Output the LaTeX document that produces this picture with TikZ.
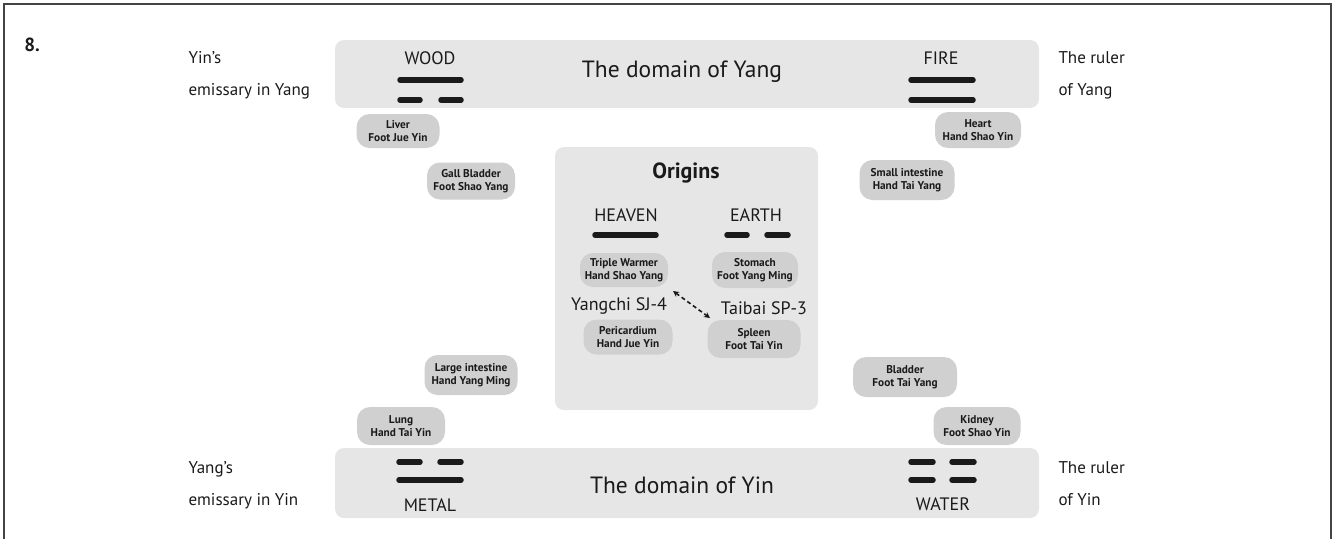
\documentclass[tikz,border=0pt]{standalone}
\usepackage{fontspec}
\setmainfont{PT Sans}
\usetikzlibrary{arrows.meta}
\definecolor{bandgray}{HTML}{E6E6E6}
\definecolor{blobgray}{HTML}{D0D0D0}
\definecolor{ink}{HTML}{1A1A1A}
\definecolor{framec}{HTML}{444444}
\tikzset{
  band/.style={fill=bandgray, rounded corners=9pt},
  blob/.style={fill=blobgray, rounded corners=13pt, align=center, text=ink,
    font=\fontsize{11.3}{12.5}\selectfont\bfseries, inner sep=0pt},
  bar/.style={line width=5.5pt, line cap=round, draw=ink},
  side/.style={anchor=west, align=left, text=ink, font=\fontsize{17}{32}\selectfont},
  elem/.style={text=ink, font=\fontsize{18}{20}\selectfont},
  title/.style={text=ink, font=\fontsize{23.5}{26}\selectfont},
  pt/.style={text=ink, font=\fontsize{18}{20}\selectfont}
}
\begin{document}
\begin{tikzpicture}[x=1pt,y=-1pt]
\useasboundingbox (0,0) rectangle (1335,539);
% frame
\draw[framec, line width=2pt] (4,539) -- (4,4) -- (1331,4) -- (1331,539);
\node[font=\fontsize{19}{21}\selectfont\bfseries, text=ink] (num) at (32,45) {8.};
% bands
\fill[band] (335,40) rectangle (1039,108);
\fill[band] (335,448) rectangle (1039,518);
\fill[band] (555,147) rectangle (818,410);
% top band
\node[title] (yang) at (682,72) {The domain of Yang};
\node[elem] (wood) at (430,58) {WOOD};
\draw[bar] (400,80) -- (461,80);
\draw[bar] (400,100) -- (420,100);
\draw[bar] (441,100) -- (461,100);
\node[elem] (fire) at (941,58) {FIRE};
\draw[bar] (911,80) -- (973,80);
\draw[bar] (911,100) -- (973,100);
\node[side] (yinem) at (185,75) {Yin's\\emissary in Yang};
\node[side] (rulyang) at (1055,75) {The ruler\\of Yang};
% bottom band
\node[title] (yin) at (682,485) {The domain of Yin};
\draw[bar] (399,462) -- (420,462);
\draw[bar] (440,462) -- (461,462);
\draw[bar] (399,480) -- (461,480);
\node[elem] (metal) at (430,505) {METAL};
\draw[bar] (911,462) -- (933,462);
\draw[bar] (952,462) -- (974,462);
\draw[bar] (911,480) -- (933,480);
\draw[bar] (952,480) -- (974,480);
\node[elem] (water) at (943,504) {WATER};
\node[side] (yangem) at (185,485) {Yang's\\emissary in Yin};
\node[side] (rulyin) at (1055,484) {The ruler\\of Yin};
% origins
\node[font=\fontsize{22}{24}\selectfont\bfseries, text=ink] (orig) at (686,173) {Origins};
\node[elem] (heaven) at (626,215) {HEAVEN};
\node[elem] (earth) at (756,215) {EARTH};
\draw[bar] (595,235) -- (656,235);
\draw[bar] (727,235) -- (747,235);
\draw[bar] (767,235) -- (788,235);
% blobs
\node[blob, minimum width=83pt, minimum height=34pt] (liver) at (398,131) {Liver\\Foot Jue Yin};
\node[blob, minimum width=86pt, minimum height=36pt] (heart) at (978,130) {Heart\\Hand Shao Yin};
\node[blob, minimum width=88pt, minimum height=37pt] (gall) at (471,181) {Gall Bladder\\Foot Shao Yang};
\node[blob, minimum width=95pt, minimum height=40pt] (small) at (907,180) {Small intestine\\Hand Tai Yang};
\node[blob, minimum width=88pt, minimum height=34pt] (triple) at (624,270) {Triple Warmer\\Hand Shao Yang};
\node[blob, minimum width=86pt, minimum height=36pt] (stomach) at (755,270) {Stomach\\Foot Yang Ming};
\node[blob, minimum width=89pt, minimum height=35pt] (peri) at (628,337) {Pericardium\\Hand Jue Yin};
\node[blob, minimum width=93pt, minimum height=38pt] (spleen) at (754,339) {Spleen\\Foot Tai Yin};
\node[blob, minimum width=93pt, minimum height=40pt] (large) at (471,375) {Large intestine\\Hand Yang Ming};
\node[blob, minimum width=88pt, minimum height=38pt] (lung) at (401,426) {Lung\\Hand Tai Yin};
\node[blob, minimum width=104pt, minimum height=40pt] (bladder) at (905,377) {Bladder\\Foot Tai Yang};
\node[blob, minimum width=87pt, minimum height=38pt] (kidney) at (977,426) {Kidney\\Foot Shao Yin};
% points
\node[pt] (sj4) at (619,306) {Yangchi SJ-4};
\node[pt] (sp3) at (764,308) {Taibai SP-3};
\coordinate (a1) at (673,291);
\coordinate (a2) at (710,318);
\draw[ink, line width=1.6pt, dash pattern=on 4pt off 3pt, {Stealth[length=6pt,width=6pt]}-{Stealth[length=6pt,width=6pt]}] (a1) -- (a2);
\end{tikzpicture}
\end{document}
